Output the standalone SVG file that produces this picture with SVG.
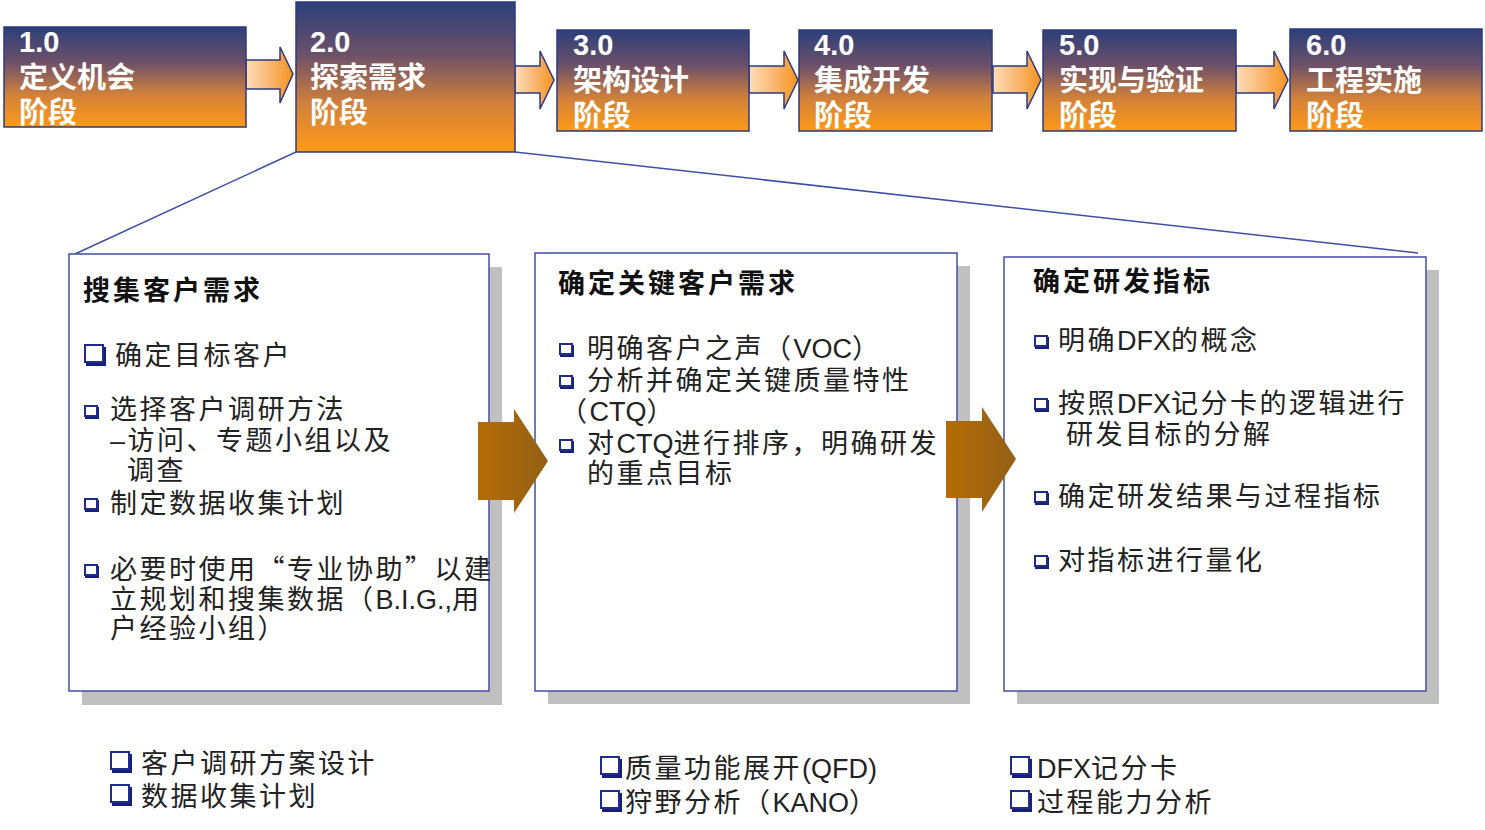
<svg xmlns="http://www.w3.org/2000/svg" width="1485" height="830" viewBox="0 0 1485 830">
<defs>
<linearGradient id="stageGrad" x1="0" y1="0" x2="0" y2="1">
<stop offset="0" stop-color="#2C3F7A"/>
<stop offset="0.35" stop-color="#6C5069"/>
<stop offset="0.68" stop-color="#D2813A"/>
<stop offset="1" stop-color="#FF9A16"/>
</linearGradient>
<linearGradient id="smallArrowGrad" x1="0" y1="0" x2="1" y2="0">
<stop offset="0" stop-color="#FDDDB8"/>
<stop offset="0.55" stop-color="#F9B46A"/>
<stop offset="1" stop-color="#F7931E"/>
</linearGradient>
<linearGradient id="bigArrowGrad" x1="0" y1="0" x2="1" y2="0">
<stop offset="0" stop-color="#B56C04"/>
<stop offset="1" stop-color="#936017"/>
</linearGradient>
</defs>
<style>
.stage{fill:url(#stageGrad);stroke:#2B3A80;stroke-width:1.5}
.stxt{font-family:"Liberation Sans","Noto Sans CJK SC",sans-serif;font-weight:bold;font-size:29px;fill:#FFFFFF}
.snum{font-family:"Liberation Sans","Noto Sans CJK SC",sans-serif;font-weight:bold;font-size:29px;fill:#FFFFFF}
.sarrow{fill:url(#smallArrowGrad);stroke:#2B3A80;stroke-width:1.5;stroke-linejoin:miter}
.barrow{fill:url(#bigArrowGrad);stroke:none}
.shadow{fill:#C0C0C0}
.panel{fill:#FFFFFF;stroke:#3F4FA6;stroke-width:1.5}
.funnel{fill:none;stroke:#3F4FA6;stroke-width:1.5}
.title{font-family:"Liberation Sans","Noto Sans CJK SC",sans-serif;font-weight:bold;font-size:27px;letter-spacing:3px;fill:#111111}
.body{font-family:"Liberation Sans","Noto Sans CJK SC",sans-serif;font-size:27px;letter-spacing:2.5px;fill:#222222}
.cjk{font-family:"Noto Sans CJK SC",sans-serif}
.lat{letter-spacing:0px}
.bul{fill:#FFFFFF;stroke:#1F2C8C;stroke-width:2}
.bulsh{fill:#16207A}
</style>

<g id="connectors">
<line class="funnel" x1="296" y1="152" x2="75" y2="254"/>
<line class="funnel" x1="515" y1="152" x2="1418" y2="253"/>
<path class="sarrow" d="M246 60 H280 V47 L293 74 L280 103 V89 H246 Z"/>
<path class="sarrow" d="M515 66 H540 V51 L554 80 L540 109 V93 H515 Z"/>
<path class="sarrow" d="M749 66 H784 V51 L798 80 L784 109 V93 H749 Z"/>
<path class="sarrow" d="M993 66 H1027 V51 L1041 80 L1027 109 V93 H993 Z"/>
<path class="sarrow" d="M1236 66 H1274 V51 L1288 80 L1274 109 V93 H1236 Z"/>
</g>

<g id="stage1">
<rect class="stage" x="4" y="27" width="242" height="100"/>
<text class="snum" x="19" y="52">1.0</text>
<text class="stxt" x="19" y="88">定义机会</text>
<text class="stxt" x="19" y="123">阶段</text>
</g>
<g id="stage2">
<rect class="stage" x="296" y="2" width="219" height="150"/>
<text class="snum" x="310" y="52">2.0</text>
<text class="stxt" x="310" y="88">探索需求</text>
<text class="stxt" x="310" y="123">阶段</text>
</g>
<g id="stage3">
<rect class="stage" x="557" y="30" width="192" height="101"/>
<text class="snum" x="573" y="55">3.0</text>
<text class="stxt" x="573" y="91">架构设计</text>
<text class="stxt" x="573" y="126">阶段</text>
</g>
<g id="stage4">
<rect class="stage" x="799" y="30" width="193" height="101"/>
<text class="snum" x="814" y="55">4.0</text>
<text class="stxt" x="814" y="91">集成开发</text>
<text class="stxt" x="814" y="126">阶段</text>
</g>
<g id="stage5">
<rect class="stage" x="1043" y="30" width="193" height="101"/>
<text class="snum" x="1059" y="55">5.0</text>
<text class="stxt" x="1059" y="91">实现与验证</text>
<text class="stxt" x="1059" y="126">阶段</text>
</g>
<g id="stage6">
<rect class="stage" x="1290" y="29" width="192" height="102"/>
<text class="snum" x="1306" y="55">6.0</text>
<text class="stxt" x="1306" y="91">工程实施</text>
<text class="stxt" x="1306" y="126">阶段</text>
</g>

<g id="panel1">
<rect class="shadow" x="82" y="267" width="420" height="438"/>
<rect class="panel" x="69" y="254" width="420" height="437"/>
<text class="title" x="83" y="300">搜集客户需求</text>
<rect class="bulsh" x="86" y="347" width="20" height="19"/>
<rect class="bul" x="85" y="345" width="18" height="17"/>
<text class="body" x="115" y="365">确定目标客户</text>
<rect class="bulsh" x="85" y="407" width="14" height="12"/>
<rect class="bul" x="85" y="406" width="12" height="10"/>
<text class="body" x="110" y="419">选择客户调研方法</text>
<text class="body" x="110" y="450">–访问、专题小组以及</text>
<text class="body" x="127" y="480">调查</text>
<rect class="bulsh" x="85" y="500" width="14" height="12"/>
<rect class="bul" x="85" y="499" width="12" height="10"/>
<text class="body" x="110" y="513">制定数据收集计划</text>
<rect class="bulsh" x="85" y="566" width="14" height="12"/>
<rect class="bul" x="85" y="565" width="12" height="10"/>
<text class="body" x="110" y="579">必要时使用<tspan class="cjk">“</tspan>专业协助<tspan class="cjk">”</tspan>以建</text>
<text class="body" x="110" y="609">立规划和搜集数据（<tspan class="lat">B.I.G.,</tspan>用</text>
<text class="body" x="110" y="638">户经验小组）</text>
</g>

<g id="panel2">
<rect class="shadow" x="548" y="266" width="422" height="438"/>
<rect class="panel" x="535" y="253" width="422" height="438"/>
<text class="title" x="558" y="293">确定关键客户需求</text>
<rect class="bulsh" x="560" y="345" width="14" height="12"/>
<rect class="bul" x="560" y="344" width="12" height="10"/>
<text class="body" x="587" y="358">明确客户之声（<tspan class="lat">VOC</tspan>）</text>
<rect class="bulsh" x="560" y="377" width="14" height="12"/>
<rect class="bul" x="560" y="376" width="12" height="10"/>
<text class="body" x="587" y="390">分析并确定关键质量特性</text>
<text class="body" x="560" y="421">（<tspan class="lat">CTQ</tspan>）</text>
<rect class="bulsh" x="560" y="441" width="14" height="12"/>
<rect class="bul" x="560" y="440" width="12" height="10"/>
<text class="body" x="587" y="453">对<tspan class="lat">CTQ</tspan>进行排序，明确研发</text>
<text class="body" x="587" y="483">的重点目标</text>
</g>

<g id="panel3">
<rect class="shadow" x="1017" y="270" width="422" height="434"/>
<rect class="panel" x="1004" y="257" width="422" height="434"/>
<text class="title" x="1033" y="291">确定研发指标</text>
<rect class="bulsh" x="1035" y="337" width="14" height="12"/>
<rect class="bul" x="1035" y="336" width="12" height="10"/>
<text class="body" x="1058" y="350">明确<tspan class="lat">DFX</tspan>的概念</text>
<rect class="bulsh" x="1035" y="400" width="14" height="12"/>
<rect class="bul" x="1035" y="399" width="12" height="10"/>
<text class="body" x="1058" y="413">按照<tspan class="lat">DFX</tspan>记分卡的逻辑进行</text>
<text class="body" x="1066" y="444">研发目标的分解</text>
<rect class="bulsh" x="1035" y="493" width="14" height="12"/>
<rect class="bul" x="1035" y="492" width="12" height="10"/>
<text class="body" x="1058" y="506">确定研发结果与过程指标</text>
<rect class="bulsh" x="1035" y="557" width="14" height="12"/>
<rect class="bul" x="1035" y="556" width="12" height="10"/>
<text class="body" x="1058" y="570">对指标进行量化</text>
</g>

<g id="bigArrows">
<path class="barrow" d="M478 422 H514 V409 L548 461 L514 513 V500 H478 Z"/>
<path class="barrow" d="M946 421 H982 V407 L1016 459 L982 512 V498 H946 Z"/>
</g>

<g id="tools1">
<rect class="bulsh" x="112" y="754" width="20" height="19"/>
<rect class="bul" x="111" y="752" width="18" height="17"/>
<text class="body" x="141" y="773">客户调研方案设计</text>
<rect class="bulsh" x="112" y="787" width="20" height="19"/>
<rect class="bul" x="111" y="785" width="18" height="17"/>
<text class="body" x="141" y="806">数据收集计划</text>
</g>
<g id="tools2">
<rect class="bulsh" x="602" y="759" width="20" height="19"/>
<rect class="bul" x="601" y="757" width="18" height="17"/>
<text class="body" x="625" y="778">质量功能展开<tspan class="lat">(QFD)</tspan></text>
<rect class="bulsh" x="602" y="793" width="20" height="19"/>
<rect class="bul" x="601" y="791" width="18" height="17"/>
<text class="body" x="625" y="812">狩野分析（<tspan class="lat">KANO</tspan>）</text>
</g>
<g id="tools3">
<rect class="bulsh" x="1012" y="759" width="20" height="19"/>
<rect class="bul" x="1011" y="757" width="18" height="17"/>
<text class="body" x="1037" y="778"><tspan class="lat">DFX</tspan>记分卡</text>
<rect class="bulsh" x="1012" y="793" width="20" height="19"/>
<rect class="bul" x="1011" y="791" width="18" height="17"/>
<text class="body" x="1037" y="812">过程能力分析</text>
</g>
</svg>
